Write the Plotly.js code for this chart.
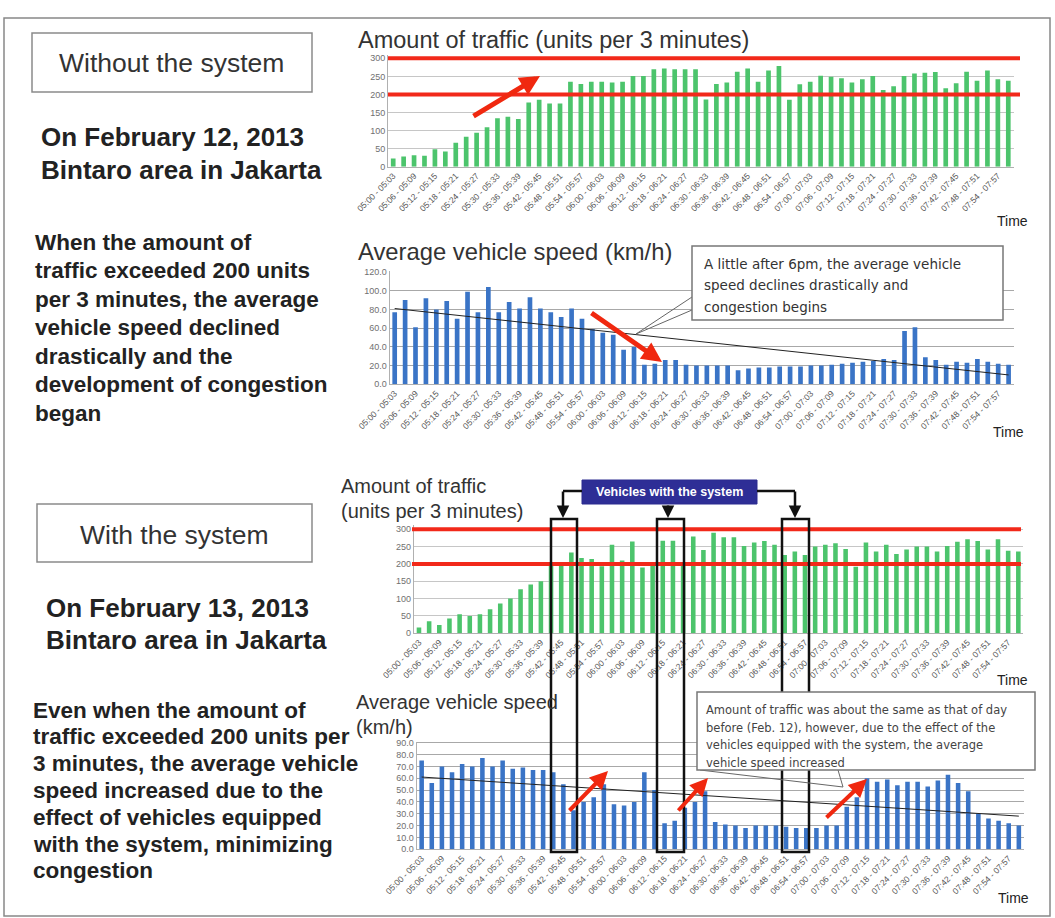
<!DOCTYPE html>
<html><head><meta charset="utf-8">
<script src="https://cdn.plot.ly/plotly-3.0.1.min.js"></script>
<style>body{margin:0;background:#fff}#chart{width:1055px;height:918px}</style>
</head><body><div id="chart"></div>
<script>
// ---------- data ----------
const categories = [
"05:00 - 05:03","05:03 - 05:06","05:06 - 05:09","05:09 - 05:12","05:12 - 05:15","05:15 - 05:18",
"05:18 - 05:21","05:21 - 05:24","05:24 - 05:27","05:27 - 05:30","05:30 - 05:33","05:33 - 05:36",
"05:36 - 05:39","05:39 - 05:42","05:42 - 05:45","05:45 - 05:48","05:48 - 05:51","05:51 - 05:54",
"05:54 - 05:57","05:57 - 06:00","06:00 - 06:03","06:03 - 06:06","06:06 - 06:09","06:09 - 06:12",
"06:12 - 06:15","06:15 - 06:18","06:18 - 06:21","06:21 - 06:24","06:24 - 06:27","06:27 - 06:30",
"06:30 - 06:33","06:33 - 06:36","06:36 - 06:39","06:39 - 06:42","06:42 - 06:45","06:45 - 06:48",
"06:48 - 06:51","06:51 - 06:54","06:54 - 06:57","06:57 - 07:00","07:00 - 07:03","07:03 - 07:06",
"07:06 - 07:09","07:09 - 07:12","07:12 - 07:15","07:15 - 07:18","07:18 - 07:21","07:21 - 07:24",
"07:24 - 07:27","07:27 - 07:30","07:30 - 07:33","07:33 - 07:36","07:36 - 07:39","07:39 - 07:42",
"07:42 - 07:45","07:45 - 07:48","07:48 - 07:51","07:51 - 07:54","07:54 - 07:57","07:57 - 08:00"];
const tickLabels = categories.filter((c, i) => i % 2 === 0);

const trafficFeb12 = [23,28,32,30,48,42,66,83,94,109,134,138,132,178,185,175,175,235,229,235,
                      235,233,235,251,251,270,272,270,270,270,186,229,233,263,272,235,266,279,185,228,
                      235,252,249,245,233,242,251,212,223,251,258,260,262,217,231,263,238,266,242,238];
const speedFeb12   = [77,90,61,92,80,89,70,99,77,104,77,88,81,93,81,77,72,81,70,59,
                      55,53,37,40,21,22,26,26,21,20,20,20,20,15,17,18,18,19,19,19,
                      20,20,21,22,23,24,25,27,26,57,61,29,26,21,24,23,27,24,22,21];
const trafficFeb13 = [17,35,24,43,55,50,55,69,86,100,127,141,150,197,200,233,217,214,193,255,
                      210,265,190,200,267,267,205,279,240,290,277,277,252,262,266,255,226,236,226,250,
                      255,260,243,192,262,236,255,229,242,250,250,236,252,264,271,266,242,271,238,236];
const speedFeb13   = [75,56,70,65,72,70,77,70,75,68,69,67,67,65,55,33,40,44,55,38,
                      37,40,65,50,22,24,35,40,49,23,21,20,18,20,20,20,19,18,18,18,
                      20,20,36,44,60,57,59,54,57,57,53,58,63,56,49,30,26,24,22,20];
const trendFeb12 = [81, 10];
const trendFeb13 = [61, 28];
const thresholds = [200, 300];

// ---------- helpers ----------
const W = 1055, H = 918;
const X = p => p / W;
const Y = p => 1 - p / H;
const FONT = 'Liberation Sans, Arial, sans-serif';
const trendX = [categories[0], categories[categories.length - 1]];

function xax(l, r, anchor) {
  return {domain: [X(l), X(r)], anchor, type: 'category', range: [-0.5, 59.5],
    tickmode: 'array', tickvals: tickLabels, ticktext: tickLabels, tickangle: -45,
    tickfont: {size: 8.5, color: '#555', family: FONT}, showline: true, linecolor: '#b0b0b0',
    showgrid: false, ticks: '', zeroline: false, fixedrange: true};
}
function yax(top, bottom, anchor, range, dtick, fmt, grid) {
  return {domain: [Y(bottom), Y(top)], anchor, range, dtick, tick0: 0, tickformat: fmt,
    tickfont: {size: 9, color: '#707070', family: FONT}, showline: true, linecolor: '#b0b0b0',
    gridcolor: grid, gridwidth: 1, zeroline: false, ticks: '', fixedrange: true};
}

const green = '#4cc46c', blue = '#3a74c6';
const data = [
  {type: 'bar', x: categories, y: trafficFeb12, xaxis: 'x', yaxis: 'y', marker: {color: green}},
  {type: 'bar', x: categories, y: speedFeb12, xaxis: 'x2', yaxis: 'y2', marker: {color: blue}},
  {type: 'scatter', mode: 'lines', x: trendX, y: trendFeb12, xaxis: 'x2', yaxis: 'y2', line: {color: '#222', width: 1}},
  {type: 'bar', x: categories, y: trafficFeb13, xaxis: 'x3', yaxis: 'y3', marker: {color: green}},
  {type: 'bar', x: categories, y: speedFeb13, xaxis: 'x4', yaxis: 'y4', marker: {color: blue}},
  {type: 'scatter', mode: 'lines', x: trendX, y: trendFeb13, xaxis: 'x4', yaxis: 'y4', line: {color: '#222', width: 1}}
];

const shapes = [];
const annotations = [];
function line(x0, y0, x1, y1, color, width) {
  shapes.push({type: 'line', xref: 'paper', yref: 'paper', x0: X(x0), y0: Y(y0), x1: X(x1), y1: Y(y1),
    line: {color, width}});
}
function rect(x0, y0, x1, y1, color, width, fill) {
  shapes.push({type: 'rect', xref: 'paper', yref: 'paper', x0: X(x0), y0: Y(y0), x1: X(x1), y1: Y(y1),
    line: {color, width}, fillcolor: fill || 'rgba(0,0,0,0)'});
}
function text(t, x, y, size, opts) {
  opts = opts || {};
  annotations.push({xref: 'paper', yref: 'paper', x: X(x), y: Y(y), text: t, showarrow: false,
    xanchor: opts.xanchor || 'left', yanchor: 'middle',
    font: {family: opts.family || FONT, size, color: opts.color || '#222', weight: opts.weight || 'normal'}});
}
function arrow(x0, y0, x1, y1, color, width, size) {
  annotations.push({xref: 'paper', yref: 'paper', x: X(x1), y: Y(y1), ax: x0 - x1, ay: y0 - y1,
    axref: 'pixel', ayref: 'pixel', text: '', showarrow: true, arrowhead: 2, arrowsize: size,
    arrowwidth: width, arrowcolor: color, standoff: 0, startstandoff: 0});
}

// threshold lines
[['y', 388, 1020], ['y3', 412, 1021]].forEach(([yr, l, r]) => {
  thresholds.forEach(v => shapes.push({type: 'line', xref: 'paper', yref: yr, x0: X(l), x1: X(r), y0: v, y1: v,
    line: {color: '#f2291a', width: 4}}));
});

// highlight rectangles
rect(551, 519, 577, 852, '#111', 2.5);
rect(657, 519, 684, 852, '#111', 2.5);
rect(782, 519, 809, 852, '#111', 2.5);

// "Vehicles with the system" label and arrows
rect(582, 480, 757, 504, '#2b2b8f', 1, '#2e2e96');
text('Vehicles with the system', 669.5, 492, 12.5, {xanchor: 'center', color: '#ffffff', weight: 'bold'});
line(582, 491, 563, 491, '#111', 2.5);
line(757, 491, 795, 491, '#111', 2.5);
arrow(563, 490, 563, 518, '#111', 2.5, 1);
arrow(668, 504, 668, 518, '#111', 2.5, 1);
arrow(795, 490, 795, 518, '#111', 2.5, 1);

// callout 1
line(636, 334, 692, 297, '#666', 1);
line(636, 334, 692, 310, '#666', 1);
rect(692, 246, 1003, 320, '#777', 1.5, '#ffffff');
const c1 = ['A little after 6pm, the average vehicle', 'speed declines drastically and', 'congestion begins'];
c1.forEach((t, i) => text(t, 702, 264 + i * 21.5, 13.5, {family: 'DejaVu Sans, sans-serif', color: '#333'}));

// callout 2
line(843, 787, 700, 770, '#666', 1);
line(843, 787, 838, 770, '#666', 1);
rect(697, 692, 1035, 770, '#777', 1.5, '#ffffff');
const c2 = ['Amount of traffic was about the same as that of day',
  'before (Feb. 12), however, due to the effect of the',
  'vehicles equipped with the system, the average',
  'vehicle speed increased'];
c2.forEach((t, i) => text(t, 704, 710 + i * 17.5, 11.5, {family: 'DejaVu Sans, sans-serif', color: '#444'}));

// red arrows
arrow(472, 117, 540, 76, '#f0280f', 5, 0.8);
arrow(590, 312, 662, 362, '#f0280f', 5, 0.8);
arrow(568, 812, 608, 771, '#f0280f', 4, 0.9);
arrow(677, 812, 708, 778, '#f0280f', 4, 0.9);
arrow(825, 819, 867, 779, '#f0280f', 4, 0.9);

// chart titles and "Time"
text('Amount of traffic (units per 3 minutes)', 356, 40, 23.5, {color: '#333'});
text('Average vehicle speed (km/h)', 356, 251, 23.8, {color: '#333'});
text('Amount of traffic', 339, 486, 20, {color: '#333'});
text('(units per 3 minutes)', 339, 511, 20, {color: '#333'});
text('Average vehicle speed', 354, 702, 20, {color: '#333'});
text('(km/h)', 354, 727, 20, {color: '#333'});
text('Time', 1012, 221, 14, {xanchor: 'center', color: '#222'});
text('Time', 1008, 432, 14, {xanchor: 'center', color: '#222'});
text('Time', 1012, 680, 14, {xanchor: 'center', color: '#222'});
text('Time', 1013, 898, 14, {xanchor: 'center', color: '#222'});

// left panel
rect(32, 33, 312, 92, '#8a8a8a', 1.5);
text('Without the system', 171, 63, 26.5, {xanchor: 'center', color: '#333'});
text('On February 12, 2013', 39, 137, 26, {weight: 'bold'});
text('Bintaro area in Jakarta', 39, 170, 26, {weight: 'bold'});
const p1 = ['When the amount of', 'traffic exceeded 200 units', 'per 3 minutes, the average',
  'vehicle speed declined', 'drastically and the', 'development of congestion', 'began'];
p1.forEach((t, i) => text(t, 33, 242 + i * 28.5, 22.5, {weight: 'bold'}));

rect(37, 504, 312, 562, '#8a8a8a', 1.5);
text('With the system', 174, 535, 26.5, {xanchor: 'center', color: '#333'});
text('On February 13, 2013', 44, 608, 26, {weight: 'bold'});
text('Bintaro area in Jakarta', 44, 640, 26, {weight: 'bold'});
const p2 = ['Even when the amount of', 'traffic exceeded 200 units per', '3 minutes, the average vehicle',
  'speed increased due to the', 'effect of vehicles equipped', 'with the system, minimizing', 'congestion'];
p2.forEach((t, i) => text(t, 31, 710 + i * 26.8, 22.5, {weight: 'bold'}));

// outer frame
rect(4, 18, 1050, 916, '#888', 1.5);

const layout = {
  width: W, height: H, margin: {l: 0, r: 0, t: 0, b: 0},
  paper_bgcolor: '#ffffff', plot_bgcolor: '#ffffff', showlegend: false, bargap: 0.55,
  font: {family: FONT},
  xaxis: xax(388, 1013.5, 'y'),
  yaxis: yax(54.7, 166.7, 'x', [0, 310], 50, 'd', '#c6c6c6'),
  xaxis2: xax(389.5, 1013.8, 'y2'),
  yaxis2: yax(271.1, 384.3, 'x2', [0, 121], 20, '.1f', '#a8a8a8'),
  xaxis3: xax(413.9, 1023.4, 'y3'),
  yaxis3: yax(525.1, 633.3, 'x3', [0, 312], 50, 'd', '#c6c6c6'),
  xaxis4: xax(416.6, 1023.9, 'y4'),
  yaxis4: yax(741.5, 849.3, 'x4', [0, 91], 10, '.1f', '#a8a8a8'),
  shapes, annotations
};
Plotly.newPlot('chart', data, layout, {displayModeBar: false, staticPlot: true});
</script></body></html>
